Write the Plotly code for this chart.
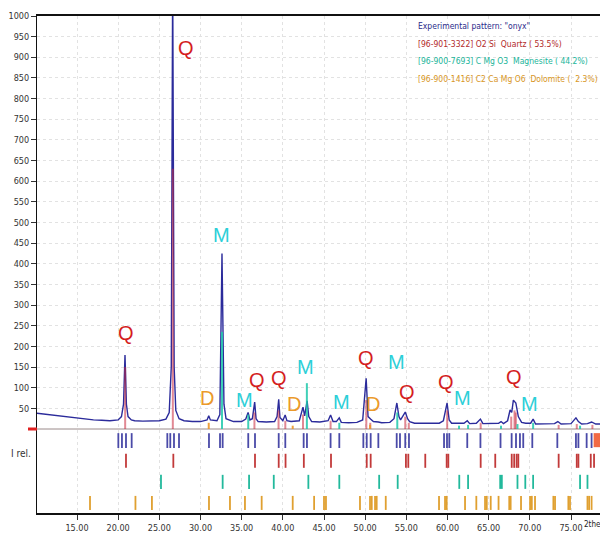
import plotly.graph_objects as go

# ---------------- data ----------------
# Experimental pattern "onyx": 2theta (deg) and counts
exp_2theta = [10.14, 11.0, 12.0, 13.0, 14.0, 15.0, 16.0, 17.0, 18.0, 19.0, 20.0, 20.4, 20.65, 20.83, 21.0, 21.2,
              21.6, 22.0, 23.0, 24.0, 25.0, 25.8, 26.2, 26.45, 26.62, 26.8, 27.0, 27.4, 28.0, 29.0, 30.0, 30.8,
              31.0, 31.2, 32.0, 32.35, 32.61, 32.85, 33.1, 34.0, 35.0, 35.5, 35.78, 36.0, 36.3, 36.58, 36.75,
              37.0, 38.0, 39.0, 39.3, 39.5, 39.65, 40.0, 40.28, 40.5, 41.0, 42.0, 42.45, 42.65, 42.95, 43.15,
              43.5, 44.5, 45.5, 45.8, 46.1, 46.5, 46.85, 47.1, 48.0, 49.0, 49.7, 50.12, 50.35, 50.65, 51.0,
              51.6, 52.0, 53.0, 53.5, 53.85, 54.1, 54.3, 54.87, 55.15, 55.4, 56.0, 57.0, 58.0, 59.0, 59.5,
              59.95, 60.2, 60.5, 61.5, 62.0, 62.4, 62.7, 63.5, 64.0, 64.3, 65.5, 66.2, 66.5, 66.8, 67.3, 67.6,
              67.8, 68.0, 68.3, 68.6, 69.0, 69.5, 70.1, 70.4, 70.7, 72.0, 73.0, 73.4, 73.8, 75.0, 75.6, 75.9,
              76.3, 77.0, 77.5, 78.0, 79.5]
exp_counts = [38, 36, 33, 30, 28, 26, 24, 22, 21, 20, 22, 30, 60, 179, 60, 30,
              22, 20, 19, 19, 20, 24, 40, 150, 1100, 150, 45, 25, 20, 18, 18, 22,
              32, 22, 20, 35, 425, 60, 25, 18, 18, 24, 40, 22, 25, 65, 25,
              18, 17, 18, 30, 72, 28, 20, 34, 20, 18, 20, 53, 32, 68, 30,
              18, 17, 20, 34, 18, 18, 27, 16, 15, 16, 22, 123, 30, 24, 18,
              17, 15, 16, 25, 63, 30, 22, 41, 25, 18, 14, 14, 13, 14, 20,
              63, 22, 14, 14, 14, 20, 13, 14, 24, 13, 13, 14, 18, 13, 20, 46,
              40, 70, 63, 30, 16, 14, 14, 24, 12, 12, 13, 18, 12, 13, 27, 18,
              12, 13, 17, 12, 12]

# Phase sticks drawn inside the pattern (position, height in counts)
q_in_pos = [20.85, 26.64, 36.55, 39.48, 40.3, 42.45, 45.8, 50.14, 50.62, 54.87, 55.3, 59.96, 64.03, 67.74, 68.14, 68.3, 73.5, 75.7, 77.6]
q_in_h = [150, 630, 40, 45, 20, 35, 20, 70, 15, 30, 15, 45, 15, 30, 45, 40, 10, 12, 10]
m_in_pos = [32.61, 35.8, 42.92, 46.86, 53.9, 61.4, 62.5, 66.5, 68.5, 70.4, 76.1]
m_in_h = [235, 35, 111, 15, 40, 8, 10, 8, 12, 15, 8]
d_in_pos = [31.0, 41.2, 50.6]
d_in_h = [15, 8, 10]

# Reference rows below the pattern (peak positions)
row_exp = [20.02, 20.46, 20.95, 21.64, 25.97, 26.33, 26.78, 27.39, 31.03, 32.37, 32.69, 35.8, 36.62, 39.5, 40.3,
           42.53, 42.93, 45.8, 46.86, 49.78, 50.19, 50.67, 51.6, 53.83, 54.23, 54.87, 55.32, 59.58, 59.94, 60.22,
           62.4, 64.0, 66.44, 67.79, 68.32, 68.8, 69.2, 70.3, 73.34, 75.6, 75.9, 76.9, 77.5]
row_quartz = [20.95, 26.7, 36.62, 39.5, 40.33, 42.55, 45.85, 50.19, 50.67, 54.95, 55.24, 57.3, 59.9, 60.1, 64.03,
              65.8, 67.8, 68.1, 68.4, 68.6, 73.5, 75.7, 75.9, 77.4, 77.8]
row_magnesite = [25.2, 32.69, 35.9, 38.9, 43.1, 46.86, 51.7, 53.95, 61.43, 62.5, 66.4, 66.6, 68.5, 69.45, 70.4,
                 76.1, 77.0]
row_dolomite = [16.58, 22.1, 24.1, 31.03, 33.58, 35.4, 37.43, 41.2, 43.8, 45.0, 45.24, 49.37, 50.59, 50.8, 51.2,
                51.4, 52.5, 58.97, 59.7, 59.9, 62.13, 63.5, 64.56, 64.77, 65.25, 66.2, 67.5, 67.67, 68.93, 70.03,
                70.24, 70.63, 72.86, 73.06, 74.68, 74.88, 77.0, 77.2, 77.5]

# Phase labels: (letter, 2theta, counts)
label_text = ["Q", "Q", "M", "D", "M", "Q", "Q", "D", "M", "M", "Q", "D", "M", "Q", "Q", "M", "Q", "M"]
label_x = [20.95, 28.2, 32.6, 30.8, 35.3, 36.85, 39.5, 41.4, 42.8, 47.1, 50.1, 50.95, 53.75, 55.1, 59.8, 61.8, 68.1, 70.0]
label_y = [232, 922, 470, 75, 70, 119, 123, 60, 150, 65, 172, 60, 162, 90, 114, 75, 126, 60]

NB = "\u00a0"
legend_lines = ['Experimental pattern: "onyx"',
                '[96-901-3322] O2 Si ' + NB + 'Quartz ( 53.5%)',
                '[96-900-7693] C Mg O3 ' + NB + 'Magnesite ( 44.2%)',
                '[96-900-1416] C2 Ca Mg O6 ' + NB + 'Dolomite ( ' + NB + '2.3%)']

x_ticks = [15, 20, 25, 30, 35, 40, 45, 50, 55, 60, 65, 70, 75]
y_ticks = [50, 100, 150, 200, 250, 300, 350, 400, 450, 500, 550, 600, 650, 700, 750, 800, 850, 900, 950, 1000]

# ---------------- styling ----------------
C_EXP = "#2b2b9b"
C_Q = "#c23a3a"
C_M = "#22b99c"
C_D = "#e0a030"
LBL_COL = {"Q": "#d41e1e", "M": "#2ccfd8", "D": "#eb9a2a"}
LEG_COL = ["#2a2a8a", "#b22a2a", "#1ab59a", "#d8961e"]
NARROW = "DejaVu Sans Condensed, Liberation Sans Narrow, Liberation Sans, Arial, sans-serif"

X_RANGE = [10.142, 79.494]
Y_RANGE = [-203.4, 1000]

# the page body has an 8px margin, so the figure sits at (8, 8) in the window
PAGE_OFF = 8
FIG_W, FIG_H = 608 - PAGE_OFF, 534 - PAGE_OFF
M_L, M_T, M_R, M_B = 37 - PAGE_OFF, 16 - PAGE_OFF, 0, 534 - 513
PLOT_W = FIG_W - M_L - M_R
PLOT_H = FIG_H - M_T - M_B


def px_to_paper(px, py):
    """window pixel -> paper coordinate"""
    return (px - PAGE_OFF - M_L) / PLOT_W, (FIG_H - M_B - (py - PAGE_OFF)) / PLOT_H


def sticks(xs, lo, hi):
    xx, yy = [], []
    for i, x in enumerate(xs):
        h = hi[i] if isinstance(hi, list) else hi
        xx += [x, x, None]
        yy += [lo, h, None]
    return xx, yy


fig = go.Figure()

# baseline
fig.add_trace(go.Scatter(x=X_RANGE, y=[0, 0], mode="lines",
                         line=dict(color="#9a8a8a", width=1), hoverinfo="skip", showlegend=False))

# experimental pattern
fig.add_trace(go.Scatter(x=exp_2theta, y=exp_counts, mode="lines",
                         line=dict(color=C_EXP, width=1.4), showlegend=False))

# phase sticks inside pattern
for pos, h, col in [(q_in_pos, q_in_h, "rgba(200,40,60,0.55)"),
                    (m_in_pos, m_in_h, "rgba(30,200,170,0.85)"),
                    (d_in_pos, d_in_h, "rgba(235,150,40,0.9)")]:
    xx, yy = sticks(pos, 0, h)
    fig.add_trace(go.Scatter(x=xx, y=yy, mode="lines", line=dict(color=col, width=2),
                             hoverinfo="skip", showlegend=False))

# reference rows
for pos, lo, hi, col in [(row_exp, -46, -10, "#4a4aa8"),
                         (row_quartz, -94, -60, C_Q),
                         (row_magnesite, -145, -111, C_M),
                         (row_dolomite, -196, -162, C_D)]:
    xx, yy = sticks(pos, lo, hi)
    fig.add_trace(go.Scatter(x=xx, y=yy, mode="lines", line=dict(color=col, width=1.8),
                             hoverinfo="skip", showlegend=False))

# orange range bar at right end of first row
fig.add_shape(type="rect", x0=77.75, x1=X_RANGE[1], y0=-44, y1=-10,
              fillcolor="#f26a45", line=dict(width=0), layer="above")
# red marker on the left of baseline
fig.add_shape(type="line", xref="paper", yref="y", x0=px_to_paper(28, 0)[0], x1=0.0, y0=0, y1=0,
              line=dict(color="#e02020", width=3))

# phase letters
for t, x, y in zip(label_text, label_x, label_y):
    fig.add_annotation(x=x, y=y, text=t, showarrow=False,
                       font=dict(family="Liberation Sans, Arial, sans-serif", size=20, color=LBL_COL[t]))

# legend text
for i, (t, c) in enumerate(zip(legend_lines, LEG_COL)):
    xp, yp = px_to_paper(416, 26 + i * 17.6)
    fig.add_annotation(xref="paper", yref="paper", x=xp, y=yp,
                       xanchor="left", yanchor="middle", text=t, showarrow=False,
                       font=dict(family=NARROW, size=8.5, color=c))

# "I rel." and "2theta"
fig.add_annotation(xref="paper", yref="y", x=px_to_paper(33, 0)[0], y=-60, xanchor="right", yanchor="middle",
                   text="I rel.", showarrow=False, font=dict(family=NARROW, size=10, color="#333333"))
xp, yp = px_to_paper(582, 524)
fig.add_annotation(xref="paper", yref="paper", x=xp, y=yp, xanchor="left", yanchor="middle",
                   text="2theta", showarrow=False, font=dict(family=NARROW, size=8, color="#222222"))

grid = dict(showgrid=True, gridcolor="#e2e2e2", griddash="dot", gridwidth=1)

fig.update_xaxes(range=X_RANGE, tickvals=x_ticks, tickformat=".2f", ticks="outside", ticklen=5,
                 tickcolor="#333333", showline=True, linecolor="#111111", linewidth=1.5, mirror=True,
                 zeroline=False, automargin=False,
                 tickfont=dict(family=NARROW, size=9, color="#333333"), **grid)
fig.update_yaxes(range=Y_RANGE, tickvals=y_ticks, ticks="outside", ticklen=5, tickcolor="#333333",
                 showline=True, linecolor="#111111", linewidth=1.2, zeroline=False, automargin=False,
                 tickfont=dict(family=NARROW, size=9, color="#333333"), **grid)

fig.update_layout(width=FIG_W, height=FIG_H, margin=dict(l=M_L, r=M_R, t=M_T, b=M_B),
                  paper_bgcolor="white", plot_bgcolor="white", showlegend=False)

fig.write_html("out.html")
